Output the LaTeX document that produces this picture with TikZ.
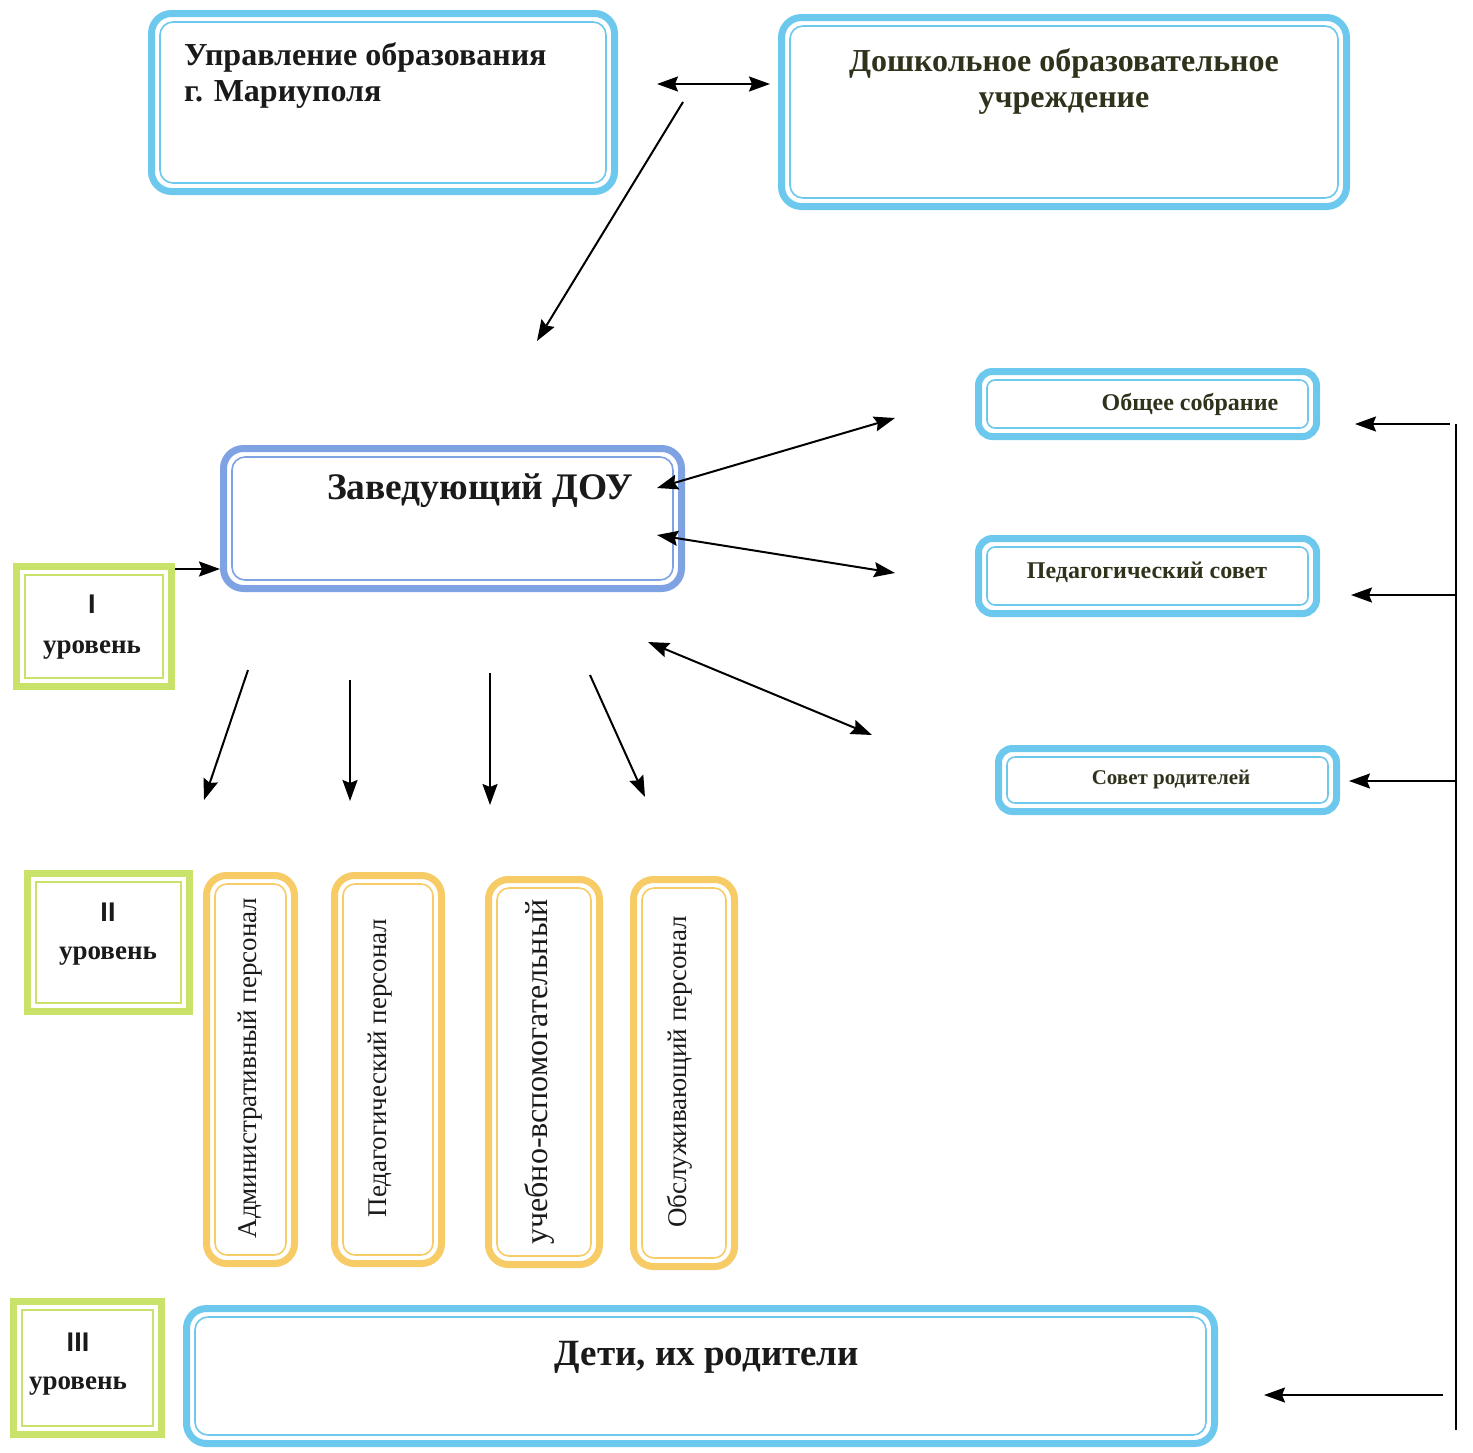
\documentclass[tikz,border=0pt]{standalone}
\usepackage{fontspec}
\setmainfont{Liberation Serif}
\newfontfamily\numfont{Liberation Sans}
\usetikzlibrary{arrows.meta}
\definecolor{skyb}{HTML}{6CC8EC}
\definecolor{zavb}{HTML}{7FA2E2}
\definecolor{lgreen}{HTML}{C8E26A}
\definecolor{yell}{HTML}{F7CC66}
\definecolor{txt}{HTML}{1A1A1A}
\definecolor{olivet}{HTML}{30331C}
% #1 name, #2 colour, #3 centre, #4 width, #5 height, #6 outer radius, #7 inner radius
\newcommand\dblbox[7]{%
  \node[draw=#2, line width=7pt, rounded corners=#6, inner sep=0pt,
        minimum width=#4, minimum height=#5] (#1) at #3 {};
  \node[draw=#2, line width=1.6pt, rounded corners=#7, inner sep=0pt,
        minimum width={#4-17pt}, minimum height={#5-17pt}] (#1-in) at #3 {};
}
\begin{document}
\begin{tikzpicture}[x=1pt,y=-1pt,
 tip/.tip={Stealth[length=21pt,width=15pt,inset=3pt]},
 conn/.style={line width=2pt, -tip},
 dconn/.style={line width=2pt, tip-tip},
 plainln/.style={line width=2pt},
 btxt/.style={font=\bfseries, text=txt, inner sep=0pt, align=center},
 rtxt/.style={text=txt, inner sep=0pt, rotate=90, font=\fontsize{27}{30}\selectfont},
]
\useasboundingbox (0,0) rectangle (1473,1452);
\fill[white] (0,0) rectangle (1473,1452);

% boxes
\dblbox{upr}{skyb}{(383,102.5)}{463pt}{178pt}{20pt}{13pt}
\dblbox{dou}{skyb}{(1064,112)}{565pt}{189pt}{20pt}{13pt}
\dblbox{zav}{zavb}{(452.5,518.5)}{458pt}{140pt}{20pt}{13pt}
\dblbox{obs}{skyb}{(1147.5,404)}{338pt}{65pt}{14pt}{8pt}
\dblbox{ped}{skyb}{(1147.5,576)}{338pt}{75pt}{14pt}{8pt}
\dblbox{sov}{skyb}{(1167.5,780)}{338pt}{63pt}{14pt}{8pt}
\dblbox{lv1}{lgreen}{(94,626.5)}{155pt}{120pt}{0pt}{0pt}
\dblbox{lv2}{lgreen}{(108.5,942.5)}{162pt}{138pt}{0pt}{0pt}
\dblbox{lv3}{lgreen}{(87.5,1368)}{148pt}{133pt}{0pt}{0pt}
\dblbox{st1}{yell}{(250.5,1069.5)}{88pt}{388pt}{20pt}{12pt}
\dblbox{st2}{yell}{(388,1069.5)}{107pt}{388pt}{20pt}{12pt}
\dblbox{st3}{yell}{(544,1072)}{111pt}{385pt}{20pt}{12pt}
\dblbox{st4}{yell}{(684,1073)}{101pt}{387pt}{20pt}{12pt}
\dblbox{det}{skyb}{(700.5,1376)}{1028pt}{135pt}{20pt}{13pt}

% texts
\node[btxt, anchor=west, align=left, font=\bfseries\fontsize{32}{36}\selectfont] (uprt) at (184,75) {Управление образования\\г. Мариуполя};
\node[btxt, text=olivet, font=\bfseries\fontsize{32}{36}\selectfont] (dout) at (1064,81) {Дошкольное образовательное\\учреждение};
\node[btxt, font=\bfseries\fontsize{37.5}{40}\selectfont] (zavt) at (480,491) {Заведующий ДОУ};
\node[btxt, text=olivet, font=\bfseries\fontsize{24}{26}\selectfont] (obst) at (1190,404) {Общее собрание};
\node[btxt, text=olivet, font=\bfseries\fontsize{24}{26}\selectfont] (pedt) at (1147,572) {Педагогический совет};
\node[btxt, text=olivet, font=\bfseries\fontsize{21}{24}\selectfont] (sovt) at (1171,779) {Совет родителей};
\node[btxt, font=\bfseries\fontsize{27}{40}\selectfont] (lv1t) at (92,627) {{\numfont\bfseries I}\\уровень};
\node[btxt, font=\bfseries\fontsize{27}{38}\selectfont] (lv2t) at (108,934) {{\numfont\bfseries II}\\уровень};
\node[btxt, font=\bfseries\fontsize{27}{38}\selectfont] (lv3t) at (78,1364) {{\numfont\bfseries III}\\уровень};
\node[rtxt] (st1t) at (250,1068) {Административный персонал};
\node[rtxt] (st2t) at (380,1068) {Педагогический персонал};
\node[rtxt, font=\fontsize{32}{34}\selectfont] (st3t) at (539,1072) {учебно-вспомогательный};
\node[rtxt] (st4t) at (680,1072) {Обслуживающий персонал};
\node[btxt, font=\bfseries\fontsize{37}{40}\selectfont] (dett) at (707,1357) {Дети, их родители};

% connector end points
\coordinate (a1s) at (657,84);  \coordinate (a1e) at (770,84);
\coordinate (a2s) at (683,102); \coordinate (a2e) at (537,341);
\coordinate (y1) at (0,569);
\coordinate (d1a) at (657,488); \coordinate (d1b) at (895,418);
\coordinate (d2a) at (657,535); \coordinate (d2b) at (895,573);
\coordinate (d3a) at (648,642); \coordinate (d3b) at (872,735);
\coordinate (p1a) at (248,670); \coordinate (p1b) at (204,800);
\coordinate (p2a) at (350,680); \coordinate (p2b) at (350,801);
\coordinate (p3a) at (490,673); \coordinate (p3b) at (490,805);
\coordinate (p4a) at (590,675); \coordinate (p4b) at (645,797);
\coordinate (vt) at (1456,424); \coordinate (vb) at (1456,1430);
\coordinate (r1a) at (1450,424); \coordinate (r1b) at (1355,424);
\coordinate (r2a) at (1456,595); \coordinate (r2b) at (1351,595);
\coordinate (r3a) at (1456,781); \coordinate (r3b) at (1349,781);
\coordinate (r4a) at (1443,1395); \coordinate (r4b) at (1264,1395);

% connectors
\draw[dconn] (a1s) -- (a1e);
\draw[conn] (a2s) -- (a2e);
\draw[conn] (lv1.east |- y1) -- (zav.west |- y1);
\draw[dconn] (d1a) -- (d1b);
\draw[dconn] (d2a) -- (d2b);
\draw[dconn] (d3a) -- (d3b);
\draw[conn] (p1a) -- (p1b);
\draw[conn] (p2a) -- (p2b);
\draw[conn] (p3a) -- (p3b);
\draw[conn] (p4a) -- (p4b);
\draw[plainln] (vt) -- (vb);
\draw[conn] (r1a) -- (r1b);
\draw[conn] (r2a) -- (r2b);
\draw[conn] (r3a) -- (r3b);
\draw[conn] (r4a) -- (r4b);
\end{tikzpicture}
\end{document}
